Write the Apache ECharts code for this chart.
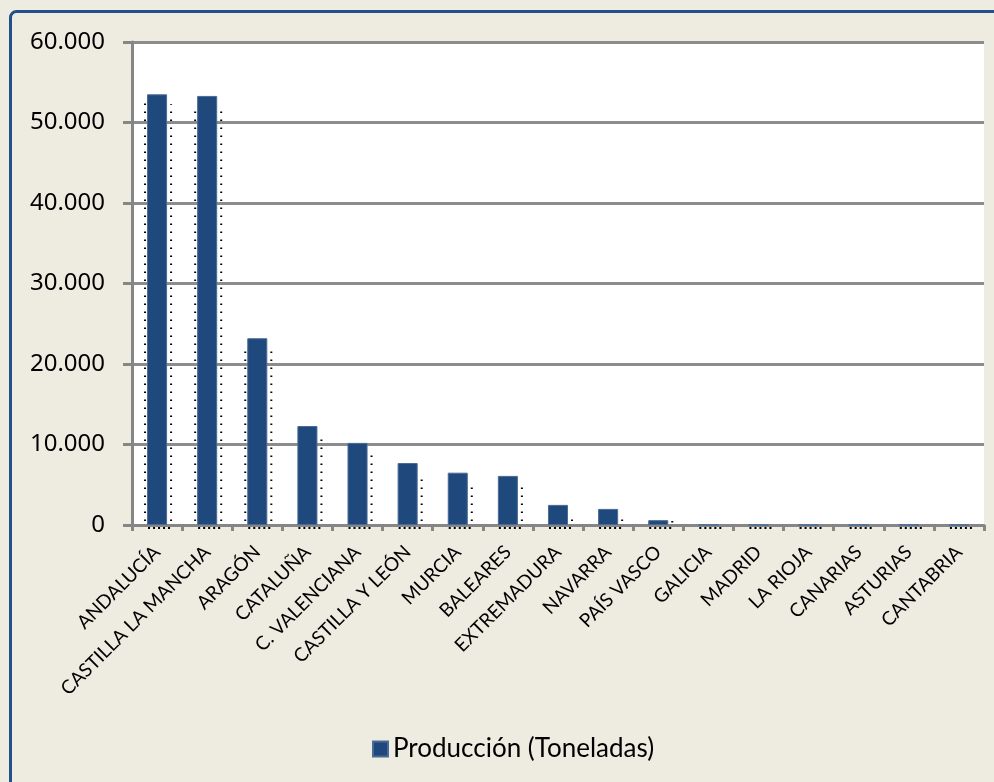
<!DOCTYPE html>
<html>
<head>
<meta charset="utf-8">
<script src="https://cdn.jsdelivr.net/npm/echarts@6/dist/echarts.min.js"></script>
<style>
html,body{margin:0;padding:0;background:#EEECE1;}
#chart{width:994px;height:782px;}
</style>
</head>
<body>
<div id="chart"></div>
<script>
const categories = ['ANDALUCÍA','CASTILLA LA MANCHA','ARAGÓN','CATALUÑA','C. VALENCIANA','CASTILLA Y LEÓN','MURCIA','BALEARES','EXTREMADURA','NAVARRA','PAÍS VASCO','GALICIA','MADRID','LA RIOJA','CANARIAS','ASTURIAS','CANTABRIA'];
const produccion = [53500, 53300, 23200, 12300, 10200, 7700, 6500, 6100, 2500, 2000, 600, 0, 0, 0, 0, 0, 0];
const yTicks = [0, 10000, 20000, 30000, 40000, 50000, 60000];
const seriesName = 'Producción (Toneladas)';

const chart = echarts.init(document.getElementById('chart'), null, {renderer: 'canvas'});

function fmt(v){ return v === 0 ? '0' : String(v).replace(/\B(?=(\d{3})+(?!\d))/g, '.'); }

const option = {
  backgroundColor: '#EEECE1',
  animation: false,
  graphic: [{
    type: 'rect', z: -10, silent: true,
    shape: {x: 10.5, y: 11.5, width: 1100, height: 900, r: 6},
    style: {fill: 'none', stroke: '#23508A', lineWidth: 3}
  }],
  grid: {
    left: 132, top: 42, right: 10, bottom: 257,
    show: true, backgroundColor: '#FFFFFF', borderWidth: 0,
    containLabel: false, outerBoundsMode: 'none'
  },
  legend: {
    show: true, left: 372, top: 736, padding: 0,
    itemWidth: 15, itemHeight: 15, itemGap: 10,
    icon: 'rect',
    textStyle: {fontFamily: 'Lato', fontSize: 26, color: '#000', padding: [0,0,0,0]},
    data: [seriesName]
  },
  xAxis: {
    type: 'category', data: categories,
    boundaryGap: true,
    axisLine: {show: true, lineStyle: {color: '#868686', width: 3}},
    axisTick: {show: true, length: 6, lineStyle: {color: '#868686', width: 3}},
    axisLabel: {rotate: 45, interval: 0, margin: 24, fontFamily: 'Lato', fontSize: 19, color: '#000'},
    splitLine: {show: false}
  },
  yAxis: {
    type: 'value', min: 0, max: 60000, interval: 10000,
    axisLine: {show: true, lineStyle: {color: '#868686', width: 3}},
    axisTick: {show: true, length: 9, lineStyle: {color: '#868686', width: 3}},
    axisLabel: {margin: 27, fontFamily: 'Noto Sans', fontSize: 24, color: '#000',
      formatter: v => yTicks.indexOf(v) >= 0 ? fmt(v) : ''},
    splitLine: {show: true, lineStyle: {color: '#8C8C8C', width: 3}}
  },
  series: [{
    name: seriesName, type: 'bar', data: produccion,
    barWidth: '40%',
    itemStyle: {color: '#1F497D', borderColor: '#4A6B96', borderWidth: 1},
    z: 3
  }, {
    name: 'shadow', type: 'custom', data: produccion, z: 4, silent: true,
    renderItem: function(params, api){
      const idx = params.dataIndex;
      const val = produccion[idx];
      const top = api.coord([idx, val]);
      const base = api.coord([idx, 0]);
      const bw = api.size([1, 0])[0] * 0.4;
      const cx = base[0];
      const children = [];
      const dot = {stroke: '#000', lineWidth: 2, lineDash: [1.5, 6.5], fill: null};
      if (val > 0) {
        const yTopL = Math.min(base[1] - 2, top[1] + 9);
        const yTopR = Math.min(base[1] - 2, top[1] + 10);
        if (val > 15000) {
          children.push({type: 'line', shape: {x1: cx - bw/2 - 2, y1: base[1] - 4, x2: cx - bw/2 - 2, y2: yTopL}, style: dot});
        }
        children.push({type: 'line', shape: {x1: cx + bw/2 + 4, y1: base[1] - 4, x2: cx + bw/2 + 4, y2: yTopR}, style: dot});
      }
      children.push({type: 'line', shape: {x1: cx - bw/2 + 1, y1: base[1] + 3, x2: cx + bw/2 + 4, y2: base[1] + 3},
        style: {stroke: '#000', lineWidth: 2, lineDash: [2, 3], fill: null}});
      return {type: 'group', children: children};
    }
  }]
};
chart.setOption(option);
</script>
</body>
</html>
